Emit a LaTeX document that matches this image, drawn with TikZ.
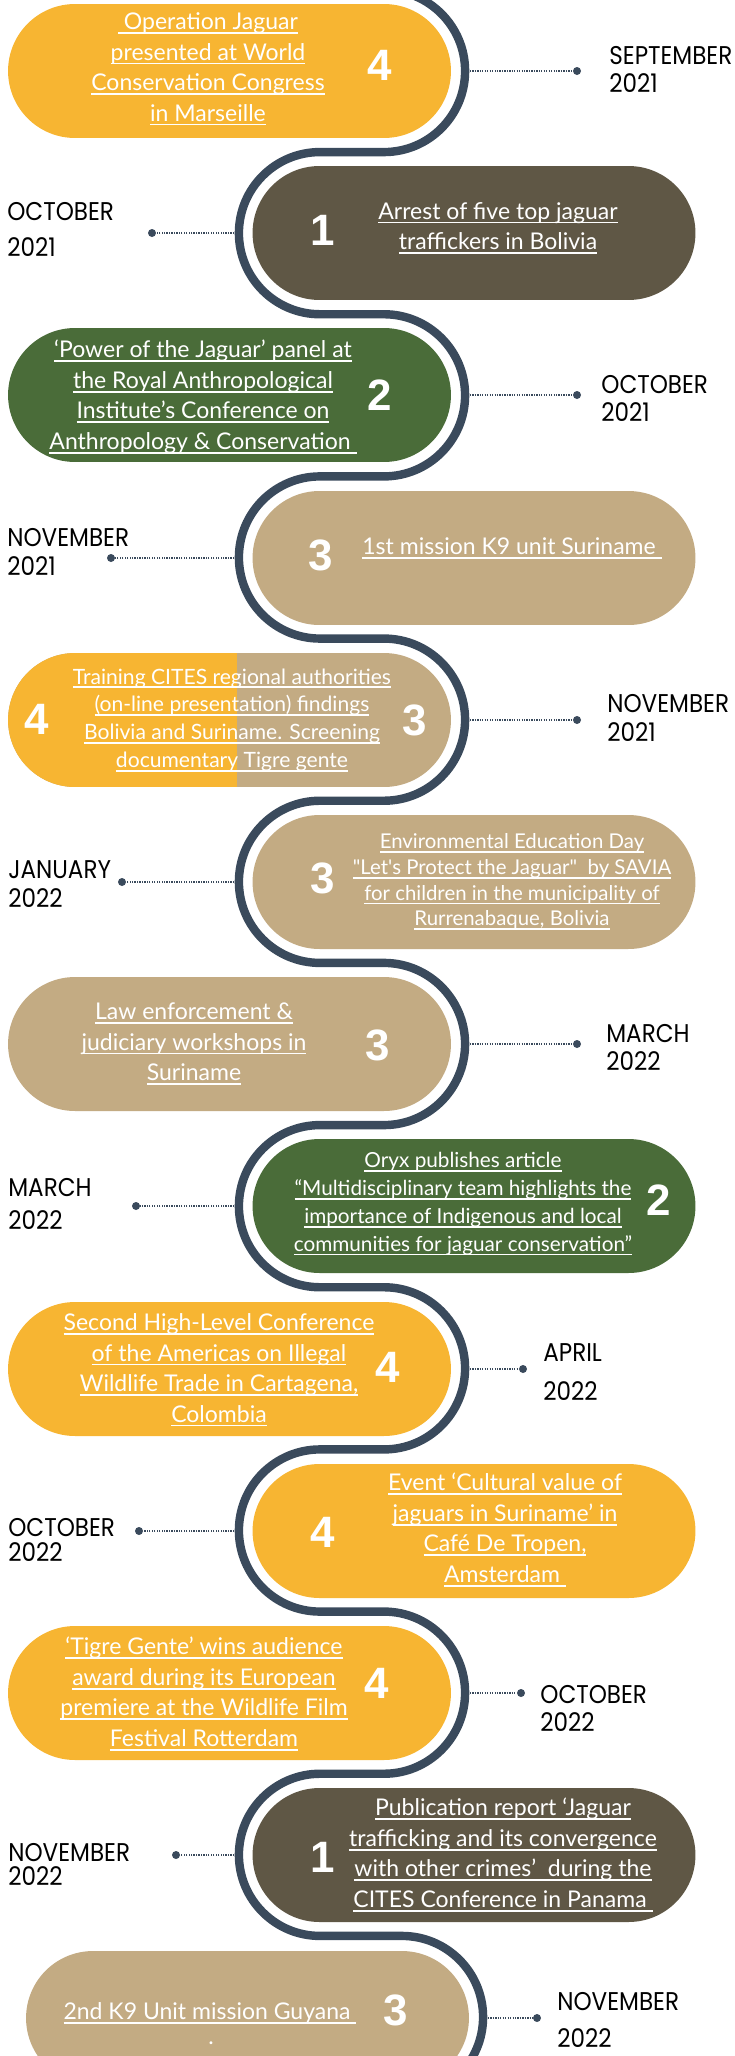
\documentclass[tikz,border=0pt]{standalone}
\usepackage{fontspec}
\setmainfont{Lato}
\newfontfamily\datefont[FakeStretch=0.9]{Poppins}
\newfontfamily\numfont{Liberation Sans}
\definecolor{jagyellow}{HTML}{F7B532}
\definecolor{jagbrown}{HTML}{5F5745}
\definecolor{jaggreen}{HTML}{4A6C39}
\definecolor{jagsand}{HTML}{C3AB83}
\definecolor{jagnavy}{HTML}{3A4A5C}
\newcommand\ulin[1]{\setbox0\hbox{#1}\rlap{\rule[-2.4pt]{\wd0}{1pt}}\box0}

\begin{document}
\begin{tikzpicture}[x=0.02cm,y=-0.02cm,
  pill/.style={rounded corners=1.34cm,minimum width=8.86cm,minimum height=2.68cm,inner sep=0},
  evtext/.style={text=white,align=center,inner sep=0,font=\fontsize{13.1}{17.4}\selectfont},
  smalltext/.style={evtext,font=\fontsize{12}{15.8}\selectfont},
  tinytext/.style={evtext,font=\fontsize{11.6}{14.6}\selectfont},
  num/.style={text=white,inner sep=0,font=\numfont\bfseries\fontsize{25}{25}\selectfont},
  month/.style={anchor=west,align=left,inner sep=0,font=\datefont\fontsize{14.6}{16}\selectfont},
  pin/.style={circle,fill=jagnavy,inner sep=0,minimum size=0.16cm},
  dotline/.style={jagnavy,line width=0.9pt,dash pattern=on 0.7pt off 0.7pt},
  snake/.style={jagnavy,line width=4.8pt}]
\useasboundingbox (0,0) rectangle (734,2056);
\clip (0,0) rectangle (734,2056);

\node[pill,fill=jagyellow] (box1) at (229.5,71) {};
\node[pill,fill=jagbrown] (box2) at (474,233) {};
\node[pill,fill=jaggreen] (box3) at (229.5,395) {};
\node[pill,fill=jagsand] (box4) at (474,558) {};
\node[pill,fill=jagsand,path picture={\fill[jagyellow,sharp corners] (path picture bounding box.south west) rectangle ([xshift=4.58cm]path picture bounding box.north west);}] (box5) at (229.5,720) {};
\node[pill,fill=jagsand] (box6) at (474,882) {};
\node[pill,fill=jagsand] (box7) at (229.5,1044) {};
\node[pill,fill=jaggreen] (box8) at (474,1206) {};
\node[pill,fill=jagyellow] (box9) at (229.5,1369) {};
\node[pill,fill=jagyellow] (box10) at (474,1531) {};
\node[pill,fill=jagyellow] (box11) at (229.5,1693) {};
\node[pill,fill=jagbrown] (box12) at (474,1855) {};
\node[pill,fill=jagsand] (box13) at (247.5,2018) {};

\draw[snake] (384,-10.1) arc[start angle=90,end angle=-90,radius=1.622cm]
  -- ++(-64,0) arc[start angle=90,end angle=270,radius=1.622cm]
  -- ++(64,0) arc[start angle=90,end angle=-90,radius=1.622cm]
  -- ++(-64,0) arc[start angle=90,end angle=270,radius=1.622cm]
  -- ++(64,0) arc[start angle=90,end angle=-90,radius=1.622cm]
  -- ++(-64,0) arc[start angle=90,end angle=270,radius=1.622cm]
  -- ++(64,0) arc[start angle=90,end angle=-90,radius=1.622cm]
  -- ++(-64,0) arc[start angle=90,end angle=270,radius=1.622cm]
  -- ++(64,0) arc[start angle=90,end angle=-90,radius=1.622cm]
  -- ++(-64,0) arc[start angle=90,end angle=270,radius=1.622cm]
  -- ++(64,0) arc[start angle=90,end angle=-90,radius=1.622cm]
  -- ++(-64,0) arc[start angle=90,end angle=270,radius=1.622cm]
  -- ++(82,0) arc[start angle=90,end angle=-90,radius=1.622cm];

\coordinate (turn1) at (465,71);
\coordinate (turn2) at (239,233);
\coordinate (turn3) at (465,395);
\coordinate (turn4) at (239,558);
\coordinate (turn5) at (465,720);
\coordinate (turn6) at (239,882);
\coordinate (turn7) at (465,1044);
\coordinate (turn8) at (239,1206);
\coordinate (turn9) at (465,1369);
\coordinate (turn10) at (239,1531);
\coordinate (turn11) at (465,1693);
\coordinate (turn12) at (239,1855);
\coordinate (turn13) at (483,2018);

\node[pin] (pin1) at (577,71) {};
\node[pin] (pin2) at (152,233) {};
\node[pin] (pin3) at (577,395) {};
\node[pin] (pin4) at (111,558) {};
\node[pin] (pin5) at (577,720) {};
\node[pin] (pin6) at (122,882) {};
\node[pin] (pin7) at (577,1044) {};
\node[pin] (pin8) at (136,1206) {};
\node[pin] (pin9) at (523,1369) {};
\node[pin] (pin10) at (139,1531) {};
\node[pin] (pin11) at (521,1693) {};
\node[pin] (pin12) at (176,1855) {};
\node[pin] (pin13) at (537,2018) {};

\draw[dotline] (turn1) -- (pin1);
\draw[dotline] (turn2) -- (pin2);
\draw[dotline] (turn3) -- (pin3);
\draw[dotline] (turn4) -- (pin4);
\draw[dotline] (turn5) -- (pin5);
\draw[dotline] (turn6) -- (pin6);
\draw[dotline] (turn7) -- (pin7);
\draw[dotline] (turn8) -- (pin8);
\draw[dotline] (turn9) -- (pin9);
\draw[dotline] (turn10) -- (pin10);
\draw[dotline] (turn11) -- (pin11);
\draw[dotline] (turn12) -- (pin12);
\draw[dotline] (turn13) -- (pin13);

\node[evtext] (evt1) at (208,69) {\ulin{ Operation Jaguar}\\\ulin{presented at World}\\\ulin{Conservation Congress}\\\ulin{in Marseille}};
\node[evtext] (evt2) at (498,228) {\ulin{Arrest of five top jaguar}\\\ulin{traffickers in Bolivia}};
\node[evtext] (evt3) at (203,397) {\ulin{‘Power of the Jaguar’ panel at}\\\ulin{the Royal Anthropological}\\\ulin{Institute’s Conference on}\\\ulin{Anthropology \& Conservation }};
\node[evtext] (evt4) at (512,548) {\ulin{1st mission K9 unit Suriname }};
\node[smalltext] (evt5) at (232,720) {\ulin{Training CITES regional authorities}\\\ulin{(on-line presentation) findings}\\\ulin{Bolivia and Suriname. Screening}\\\ulin{documentary Tigre gente}};
\node[tinytext] (evt6) at (512,882) {\ulin{Environmental Education Day}\\\ulin{\textquotedbl Let\textquotesingle s Protect the Jaguar\textquotedbl\ \ by SAVIA}\\\ulin{for children in the municipality of}\\\ulin{Rurrenabaque, Bolivia}};
\node[evtext] (evt7) at (194,1044) {\ulin{Law enforcement \&}\\\ulin{judiciary workshops in}\\\ulin{Suriname}};
\node[smalltext,font=\fontsize{11.8}{15.8}\selectfont] (evt8) at (463,1204) {\ulin{Oryx publishes article}\\\ulin{“Multidisciplinary team highlights the}\\\ulin{importance of Indigenous and local}\\\ulin{communities for jaguar conservation”}};
\node[evtext] (evt9) at (219,1370) {\ulin{Second High-Level Conference}\\\ulin{of the Americas on Illegal}\\\ulin{Wildlife Trade in Cartagena,}\\\ulin{Colombia}};
\node[evtext] (evt10) at (505,1530) {\ulin{Event ‘Cultural value of}\\\ulin{jaguars in Suriname’ in}\\\ulin{Café De Tropen,}\\\ulin{Amsterdam }};
\node[evtext] (evt11) at (204,1694) {\ulin{‘Tigre Gente’ wins audience}\\\ulin{award during its European}\\\ulin{premiere at the Wildlife Film}\\\ulin{Festival Rotterdam}};
\node[evtext] (evt12) at (503,1855) {\ulin{Publication report ‘Jaguar}\\\ulin{trafficking and its convergence}\\\ulin{with other crimes’\ \ during the}\\\ulin{CITES Conference in Panama }};
\node[evtext] (evt13) at (210,2013) {\ulin{2nd K9 Unit mission Guyana }};
\node[evtext] (dot13) at (211,2043) {.};

\node[num] (num1) at (380,65) {4};
\node[num] (num2) at (323,230) {1};
\node[num] (num3) at (380,395) {2};
\node[num] (num4) at (321,555) {3};
\node[num] (num5a) at (37,719) {4};
\node[num] (num5b) at (415,720) {3};
\node[num] (num6) at (323,878) {3};
\node[num] (num7) at (378,1045) {3};
\node[num] (num8) at (659,1200) {2};
\node[num] (num9) at (388,1367) {4};
\node[num] (num10) at (323,1532) {4};
\node[num] (num11) at (377,1683) {4};
\node[num] (num12) at (323,1857) {1};
\node[num] (num13) at (396,2010) {3};

\node[month] (date1) at (609,69) {SEPTEMBER\\2021};
\node[month] (date2) at (7,229.5) {OCTOBER\\[4pt]2021};
\node[month] (date3) at (601,398) {OCTOBER\\2021};
\node[month] (date4) at (7,552) {NOVEMBER\\[1pt]2021};
\node[month] (date5) at (607,718) {NOVEMBER\\[1pt]2021};
\node[month] (date6) at (8,884) {JANUARY\\2022};
\node[month] (date7) at (606,1047.5) {MARCH\\2022};
\node[month] (date8) at (8,1204) {MARCH\\[2.3pt]2022};
\node[month] (date9) at (543,1372) {APRIL\\[5.7pt]2022};
\node[month] (date10) at (8,1539.5) {OCTOBER\\[-1.7pt]2022};
\node[month] (date11) at (540,1708) {OCTOBER\\2022};
\node[month] (date12) at (8,1864) {NOVEMBER\\[-2.3pt]2022};
\node[month] (date13) at (557,2020) {NOVEMBER\\[5pt]2022};
\end{tikzpicture}
\end{document}
